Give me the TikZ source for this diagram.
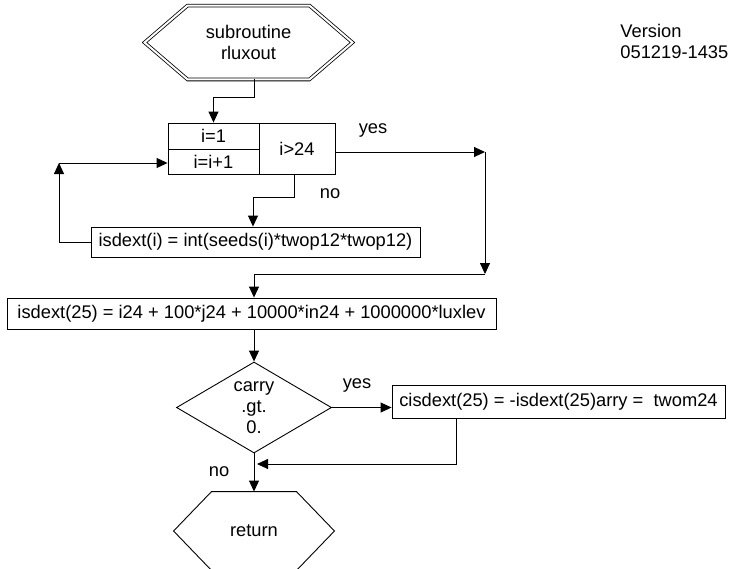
\documentclass[tikz,border=0pt]{standalone}
\usepackage{fontspec}
\setmainfont{Liberation Sans}
\usetikzlibrary{shapes.geometric,arrows.meta}
\tikzset{
  box/.style={draw, inner sep=0pt, align=center},
  cond/.style={draw, diamond, aspect=1.7, inner sep=0pt, align=center,
    minimum width=155, minimum height=91},
  term/.style={inner sep=0pt, align=center},
  arr/.style={-{Triangle[length=11pt,width=10pt]}},
  hexline/.style={double, double distance=2pt, line width=0.8pt}
}

\begin{document}
\begin{tikzpicture}[
  x=1pt, y=-1pt,
  line width=0.9pt,
  font=\fontsize{18.3}{21}\selectfont
]
\useasboundingbox (0,0) rectangle (733,568);

\node[term, minimum width=207, minimum height=73] (start) at (248.5,42.5) {subroutine\\rluxout};
\draw[hexline] (start.west) -- ([xshift=43]start.north west) -- ([xshift=-43]start.north east)
  -- (start.east) -- ([xshift=-43]start.south east) -- ([xshift=43]start.south west) -- cycle;

\node[anchor=west, align=left, inner sep=0pt] (ver) at (620,41) {Version\\051219-1435};

\node[box, minimum width=91, minimum height=26] (init) at (213.5,136) {i=1};
\node[box, minimum width=91, minimum height=25] (incr) at (213.5,161.5) {i=i+1};
\node[box, minimum width=76, minimum height=51] (test) at (297,148.5) {i>24};

\node[box, minimum width=329, minimum height=30] (body) at (255.5,242) {isdext(i) = int(seeds(i)*twop12*twop12)};
\node[box, minimum width=489, minimum height=31] (pack) at (251.5,313.5) {isdext(25) = i24 + 100*j24 + 10000*in24 + 1000000*luxlev};
\node[cond] (carry) at (254,407.5) {carry\\.gt.\\0.};
\node[box, minimum width=333, minimum height=33] (alt) at (558.5,401.5) {cisdext(25) = -isdext(25)arry =~~twom24};

\node[term, minimum width=160, minimum height=78] (ret) at (254,531) {return};
\draw (ret.west) -- ([xshift=38]ret.north west) -- ([xshift=-38]ret.north east)
  -- (ret.east) -- ([xshift=-38]ret.south east) -- ([xshift=38]ret.south west) -- cycle;

\node (yes1) at (373,130) {yes};
\node (no1) at (330,194) {no};
\node (yes2) at (357,385) {yes};
\node (no2) at (219,472) {no};

\coordinate (c1) at (485,152);
\coordinate (c2) at (485,274);
\coordinate (c3) at (59,163);
\coordinate (c4) at (254,464);

\draw[arr] ([xshift=5.5]start.south) -- ++(0,18) -| (init.north);
\draw[arr] (test.east |- c1) -- (c1);
\draw[arr] (c1) -- (c2);
\draw[arr] (c2) -| (pack.north -| carry.north);
\draw[arr] ([xshift=-3]test.south) -- ++(0,23) -| ([xshift=-2.5]body.north);
\draw[arr] (body.west) -| (c3);
\draw[arr] (c3) -- (c3 -| incr.west);
\draw[arr] (pack.south -| carry.north) -- (carry.north);
\draw[arr] (carry.east) -- (carry.east -| alt.west);
\draw[arr] ([xshift=-102.5]alt.south) |- ([xshift=3]c4);
\draw[arr] (carry.south) -- (ret.north);
\end{tikzpicture}
\end{document}
